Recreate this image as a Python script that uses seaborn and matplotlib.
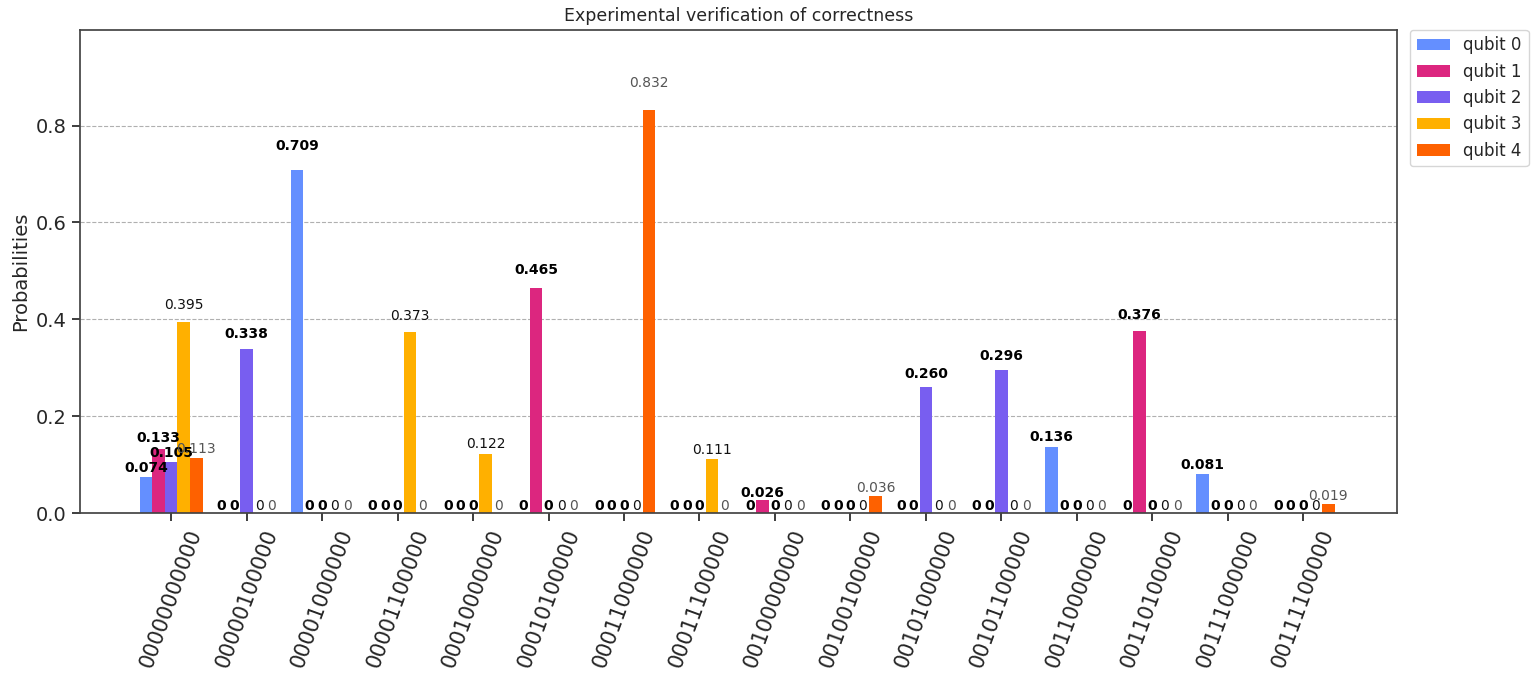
import pandas as pd
import matplotlib
matplotlib.use("Agg")
import matplotlib.pyplot as plt
import seaborn as sns

# Measured states (x axis)
states = [
    "00000000000", "00000100000", "00001000000", "00001100000",
    "00010000000", "00010100000", "00011000000", "00011100000",
    "00100000000", "00100100000", "00101000000", "00101100000",
    "00110000000", "00110100000", "00111000000", "00111100000",
]

# Probabilities per qubit run
qubit_0 = [0.074, 0, 0.709, 0, 0, 0, 0, 0, 0, 0, 0, 0, 0.136, 0, 0.081, 0]
qubit_1 = [0.133, 0, 0, 0, 0, 0.465, 0, 0, 0.026, 0, 0, 0, 0, 0.376, 0, 0]
qubit_2 = [0.105, 0.338, 0, 0, 0, 0, 0, 0, 0, 0, 0.260, 0.296, 0, 0, 0, 0]
qubit_3 = [0.395, 0, 0, 0.373, 0.122, 0, 0, 0.111, 0, 0, 0, 0, 0, 0, 0, 0]
qubit_4 = [0.113, 0, 0, 0, 0, 0, 0.832, 0, 0, 0.036, 0, 0, 0, 0, 0, 0.019]

series_names = ["qubit 0", "qubit 1", "qubit 2", "qubit 3", "qubit 4"]
colors = ["#648fff", "#dc267f", "#785ef0", "#ffb000", "#fe6100"]

sns.set_theme(style="ticks")
plt.rcParams["font.family"] = ["DejaVu Sans"]

# Long-form table for seaborn
rows = []
for name, vals in zip(series_names, [qubit_0, qubit_1, qubit_2, qubit_3, qubit_4]):
    for s, v in zip(states, vals):
        rows.append({"state": s, "prob": v, "qubit": name})
df = pd.DataFrame(rows)

fig, ax = plt.subplots(figsize=(15.35, 6.76), dpi=100)
fig.subplots_adjust(left=0.052, right=0.910, top=0.956, bottom=0.241)

sns.barplot(data=df, x="state", y="prob", hue="qubit", order=states,
            hue_order=series_names, palette=colors, width=5 / 6, gap=0,
            saturation=1, linewidth=0, errorbar=None, ax=ax, zorder=2)

# value labels above each bar
label_style = [("black", "bold"), ("black", "bold"), ("black", "bold"),
               ("#111111", "normal"), ("#555555", "normal")]
for cont, (col, wt) in zip(ax.containers, label_style):
    for rect in cont:
        h = rect.get_height()
        txt = "%.3f" % h if h >= 1e-3 else "0"
        ax.text(rect.get_x() + rect.get_width() / 2, 1.05 * h, txt,
                ha="center", va="bottom", fontsize=10, color=col,
                fontweight=wt, zorder=3)

ax.set_axisbelow(True)
ax.yaxis.grid(True, linestyle="--", color="#b0b0b0", linewidth=0.8)
ax.set_ylim(0, 0.998)
ax.set_xlim(-1.21, 16.24)
ax.set_yticks([0.0, 0.2, 0.4, 0.6, 0.8])
ax.tick_params(axis="y", labelsize=14)
ax.tick_params(axis="x", labelsize=15, rotation=70)
for spine in ax.spines.values():
    spine.set_color("#444444")

ax.set_xlabel("")
ax.set_ylabel("Probabilities", fontsize=14)
ax.set_title("Experimental verification of correctness", fontsize=12.5)

sns.move_legend(ax, "upper left", bbox_to_anchor=(1.01, 1.0), title=None,
                fontsize=12, frameon=True, borderaxespad=0)

plt.savefig("out.png", dpi=100)
